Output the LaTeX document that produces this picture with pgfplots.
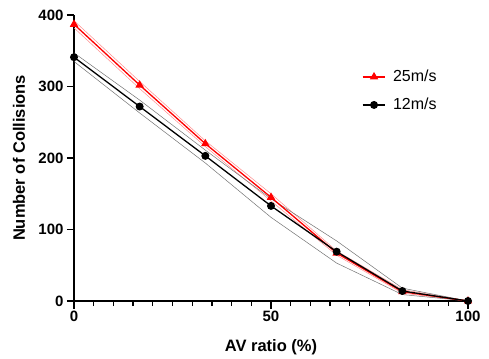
\documentclass[border=0pt]{standalone}
\usepackage{fontspec}
\setmainfont{Liberation Sans}
\usepackage{pgfplots}
\usepackage{pgfplotstable}
\pgfplotsset{compat=1.18}
\pgfplotstableread{
x      y    up   lo
0      387  392  382
16.667 302  307  297
33.333 220  224  216
50     145  150  140
66.667 67   70   64
83.333 13   16   11
100    0    0    0
}\fast
\pgfplotstableread{
x      y    up   lo
0      341  347  335
16.667 272  281  263
33.333 203  211  193
50     133  143  117
66.667 69   84   53
83.333 14   18   9
100    0    0    0
}\slow
\begin{document}
\begin{tikzpicture}
\begin{axis}[
  scale only axis, width=394bp, height=286bp,
  xmin=0, xmax=100, ymin=0, ymax=400,
  axis x line*=bottom, axis y line*=left,
  every outer x axis line/.append style={line width=1.6bp},
  every outer y axis line/.append style={line width=1.6bp},
  xtick={0,50,100}, minor xtick={0,5,...,100},
  ytick={0,100,...,400}, minor ytick={0,100,...,400},
  xtick align=outside, ytick align=outside,
  major tick length=7bp, minor tick length=5bp,
  every major tick/.append style={black, line width=1.3bp},
  every minor tick/.append style={black, line width=1.3bp},
  /pgf/number format/assume math mode=true,
  tick label style={font=\fontsize{15bp}{18bp}\selectfont\bfseries},
  xlabel={AV ratio (\%)}, ylabel={Number of Collisions},
  every axis x label/.style={at={(axis description cs:0.5,-0.177)}, anchor=base,
    font=\fontsize{16.5bp}{20bp}\selectfont\bfseries},
  every axis y label/.style={at={(axis description cs:-0.1244,0.5)}, rotate=90, anchor=base,
    font=\fontsize{16.5bp}{20bp}\selectfont\bfseries},
  legend style={draw=none, fill=none, at={(axis description cs:0.723,0.7346)}, anchor=west,
    font=\fontsize{16bp}{19bp}\selectfont, row sep=11bp,
    nodes={inner xsep=7bp}},
  legend cell align=left,
  legend image code/.code={\draw[#1, mark=none] (0cm,0cm) -- (0.8cm,0cm);
    \draw[#1, only marks] plot coordinates {(0.4cm,0cm)};},
]
\addplot[forget plot, red!45, line width=0.5bp] table[x=x,y=up] {\fast};
\addplot[forget plot, red!45, line width=0.5bp] table[x=x,y=lo] {\fast};
\addplot[forget plot, black!55, line width=0.5bp] table[x=x,y=up] {\slow};
\addplot[forget plot, black!55, line width=0.5bp] table[x=x,y=lo] {\slow};
\addplot[red, line width=1.3bp, mark=triangle*, mark size=3.6bp, mark options={solid}] table[x=x,y=y] {\fast};
\addlegendentry{25m/s}
\addplot[black, line width=1.3bp, mark=*, mark size=3.3bp, mark options={solid}] table[x=x,y=y] {\slow};
\addlegendentry{12m/s}
\end{axis}
% axis tick marks (decoration): y major ticks every 100 and longer x major ticks at 0, 50, 100
\foreach \i in {0,...,4} {
  \draw[black, line width=1.3bp] (current axis.south west) ++(0bp,\i*71.5bp) -- ++(-7bp,0bp);
}
\foreach \i in {0,1,2} {
  \draw[black, line width=1.3bp] (current axis.south west) ++(\i*197bp,0bp) -- ++(0bp,-8bp);
}
\path (current axis.south west) ++(-74bp,-57bp) rectangle ++(489bp,358bp);
\end{tikzpicture}
\end{document}
